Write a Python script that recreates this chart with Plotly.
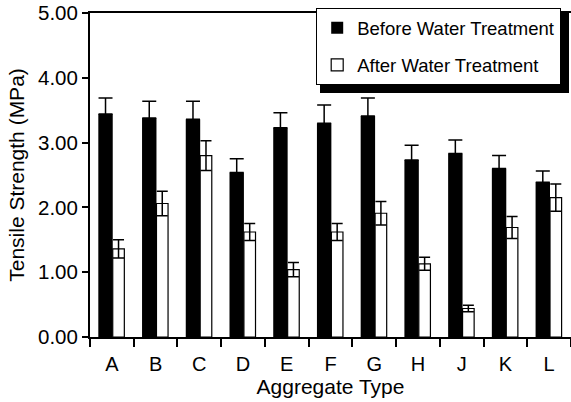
import plotly.graph_objects as go

# Aggregate types on the x axis
aggregates = ["A", "B", "C", "D", "E", "F", "G", "H", "J", "K", "L"]

# Tensile strength (MPa) before water treatment, with upper error
before = [3.44, 3.38, 3.36, 2.54, 3.23, 3.30, 3.41, 2.73, 2.83, 2.60, 2.39]
before_err = [0.25, 0.26, 0.28, 0.21, 0.23, 0.28, 0.28, 0.23, 0.21, 0.20, 0.17]

# Tensile strength (MPa) after water treatment, with symmetric error
after = [1.36, 2.06, 2.80, 1.62, 1.04, 1.62, 1.91, 1.13, 0.44, 1.69, 2.15]
after_err = [0.14, 0.19, 0.23, 0.13, 0.11, 0.13, 0.18, 0.10, 0.05, 0.17, 0.21]

y_ticks = [0, 1, 2, 3, 4, 5]

FONT = "Liberation Sans, Arial, Helvetica, sans-serif"

W, H = 571, 402
ML, MR, MT, MB = 90, 0, 13, 65
PW, PH = W - ML - MR, H - MT - MB

fig = go.Figure()

fig.add_trace(go.Bar(
    x=aggregates, y=before, name="Before Water Treatment",
    legendgroup="before",
    offset=-0.31, width=0.33,
    marker=dict(color="black", line=dict(width=0)),
    error_y=dict(type="data", array=before_err, symmetric=False,
                 arrayminus=[0] * len(before_err),
                 color="black", thickness=1.5, width=7),
))

fig.add_trace(go.Bar(
    x=aggregates, y=after, name="After Water Treatment",
    legendgroup="after",
    offset=0.02, width=0.265,
    marker=dict(color="white", line=dict(color="black", width=1.2)),
    error_y=dict(type="data", array=after_err, symmetric=True,
                 color="black", thickness=1.5, width=5.5),
))

# legend box geometry in pixels, used for its drop shadow
LEG_L, LEG_T, LEG_R, LEG_B = 316, 8, 565, 89
SH = 4


def px_to_paper_x(px):
    return (px - ML) / PW


def px_to_paper_y(py):
    return (H - MB - py) / PH


fig.add_shape(
    type="rect", xref="paper", yref="paper",
    x0=px_to_paper_x(LEG_L + SH), x1=px_to_paper_x(LEG_R + SH),
    y0=px_to_paper_y(LEG_B + SH), y1=px_to_paper_y(LEG_T + SH),
    fillcolor="black", line=dict(width=0), layer="above",
)

fig.update_layout(
    width=W, height=H,
    margin=dict(l=ML, r=MR, t=MT, b=MB, pad=0),
    paper_bgcolor="white", plot_bgcolor="white",
    font=dict(family=FONT, color="black"),
    barmode="group",
    showlegend=True,
    legend=dict(
        x=px_to_paper_x(LEG_L), y=px_to_paper_y(LEG_T),
        xanchor="left", yanchor="top",
        bgcolor="white", bordercolor="black", borderwidth=1.2,
        font=dict(size=18.5, family=FONT, color="black"),
        tracegroupgap=10,
        itemwidth=30,
    ),
    xaxis=dict(
        type="category",
        range=[-0.5, 10.5],
        showline=True, linecolor="black", linewidth=1.8, mirror=True,
        ticks="outside", tickson="boundaries", ticklen=8, tickwidth=1.5,
        tickcolor="black",
        tickfont=dict(size=20, family=FONT, color="black"),
        ticklabelstandoff=8,
        showgrid=False, zeroline=False,
        title=dict(text="Aggregate Type", font=dict(size=21, family=FONT),
                   standoff=3),
    ),
    yaxis=dict(
        range=[0, 5],
        tickvals=y_ticks, tickformat=".2f",
        showline=True, linecolor="black", linewidth=2,
        ticks="outside", ticklen=6, tickwidth=1.5, tickcolor="black",
        tickfont=dict(size=20.5, family=FONT, color="black"),
        showgrid=False, zeroline=False,
        title=dict(text="Tensile Strength (MPa)",
                   font=dict(size=21, family=FONT), standoff=8),
    ),
)

fig.write_html("out.html")
